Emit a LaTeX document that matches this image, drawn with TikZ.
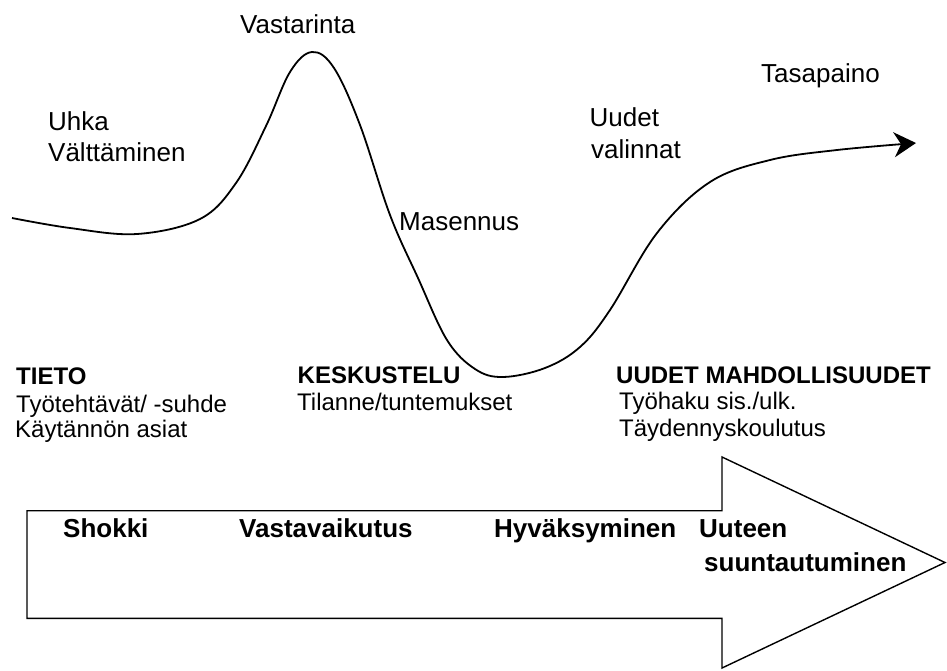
\documentclass[tikz,border=0pt]{standalone}
\usepackage{fontspec}
\setmainfont{Liberation Sans}
\usetikzlibrary{arrows.meta}
\begin{document}
\begin{tikzpicture}[x=1pt,y=-1pt,
  lbl/.style={inner sep=0pt, anchor=base west, font=\fontsize{26}{31}\selectfont},
  lowlbl/.style={inner sep=0pt, anchor=base west, font=\fontsize{24}{28}\selectfont},
  lowhead/.style={inner sep=0pt, anchor=base west, font=\fontsize{24}{28}\selectfont\bfseries},
  arrlbl/.style={inner sep=0pt, anchor=base west, font=\fontsize{26}{31}\selectfont\bfseries},
  curveline/.style={line width=1.8pt, line join=round},
  bigarrow/.style={draw, line width=1.4pt, line join=miter}]
\useasboundingbox (0,0) rectangle (947,670);
% curve
\coordinate (cstart) at (12,218);
\coordinate (cend) at (916,143);
\draw[curveline, -{Stealth[length=22pt,width=25pt,inset=7pt]}]
  plot[smooth, tension=0.6] coordinates {
  (cstart) (70,228) (137,234) (200,219) (236,183) (266,126) (290,72) (312,52) (334,68)
  (360,125) (390,215) (418,278) (447,340) (475,369) (503,377) (545,368) (580,347)
  (610,310) (657,233) (710,182) (770,160) (837,150) (cend)};
% upper labels
\node[lbl] (uhka) at (48,130.7) {Uhka};
\node[lbl] (valt) at (48,161.7) {Välttäminen};
\node[lbl] (vast) at (240,33.3) {Vastarinta};
\node[lbl] (mas) at (399,230) {Masennus};
\node[lbl] (uud) at (589.5,126.7) {Uudet};
\node[lbl] (val) at (591,158.3) {valinnat};
\node[lbl] (tasa) at (761,82.3) {Tasapaino};
% lower labels
\node[lowhead] (tieto) at (16,384) {TIETO};
\node[lowlbl] (tyot) at (16,412) {Työtehtävät/ -suhde};
\node[lowlbl] (kayt) at (15,437.3) {Käytännön asiat};
\node[lowhead] (kesk) at (297.5,383.3) {KESKUSTELU};
\node[lowlbl] (tila) at (297,410) {Tilanne/tuntemukset};
\node[lowhead] (umah) at (616,383.3) {UUDET MAHDOLLISUUDET};
\node[lowlbl] (tyoh) at (619,409.3) {Työhaku sis./ulk.};
\node[lowlbl] (tayd) at (619,436) {Täydennyskoulutus};
% big arrow
\draw[bigarrow] (27,510.7) -- (722,510.7) -- (722,457) -- (945,562.5) -- (722,668) -- (722,618.3) -- (27,618.3) -- cycle;
\node[arrlbl] (shok) at (63,537.7) {Shokki};
\node[arrlbl] (vaik) at (239,537.7) {Vastavaikutus};
\node[arrlbl] (hyva) at (494,537.7) {Hyväksyminen};
\node[arrlbl] (uute) at (699,537.7) {Uuteen};
\node[arrlbl] (suun) at (704,571) {suuntautuminen};
\end{tikzpicture}
\end{document}
